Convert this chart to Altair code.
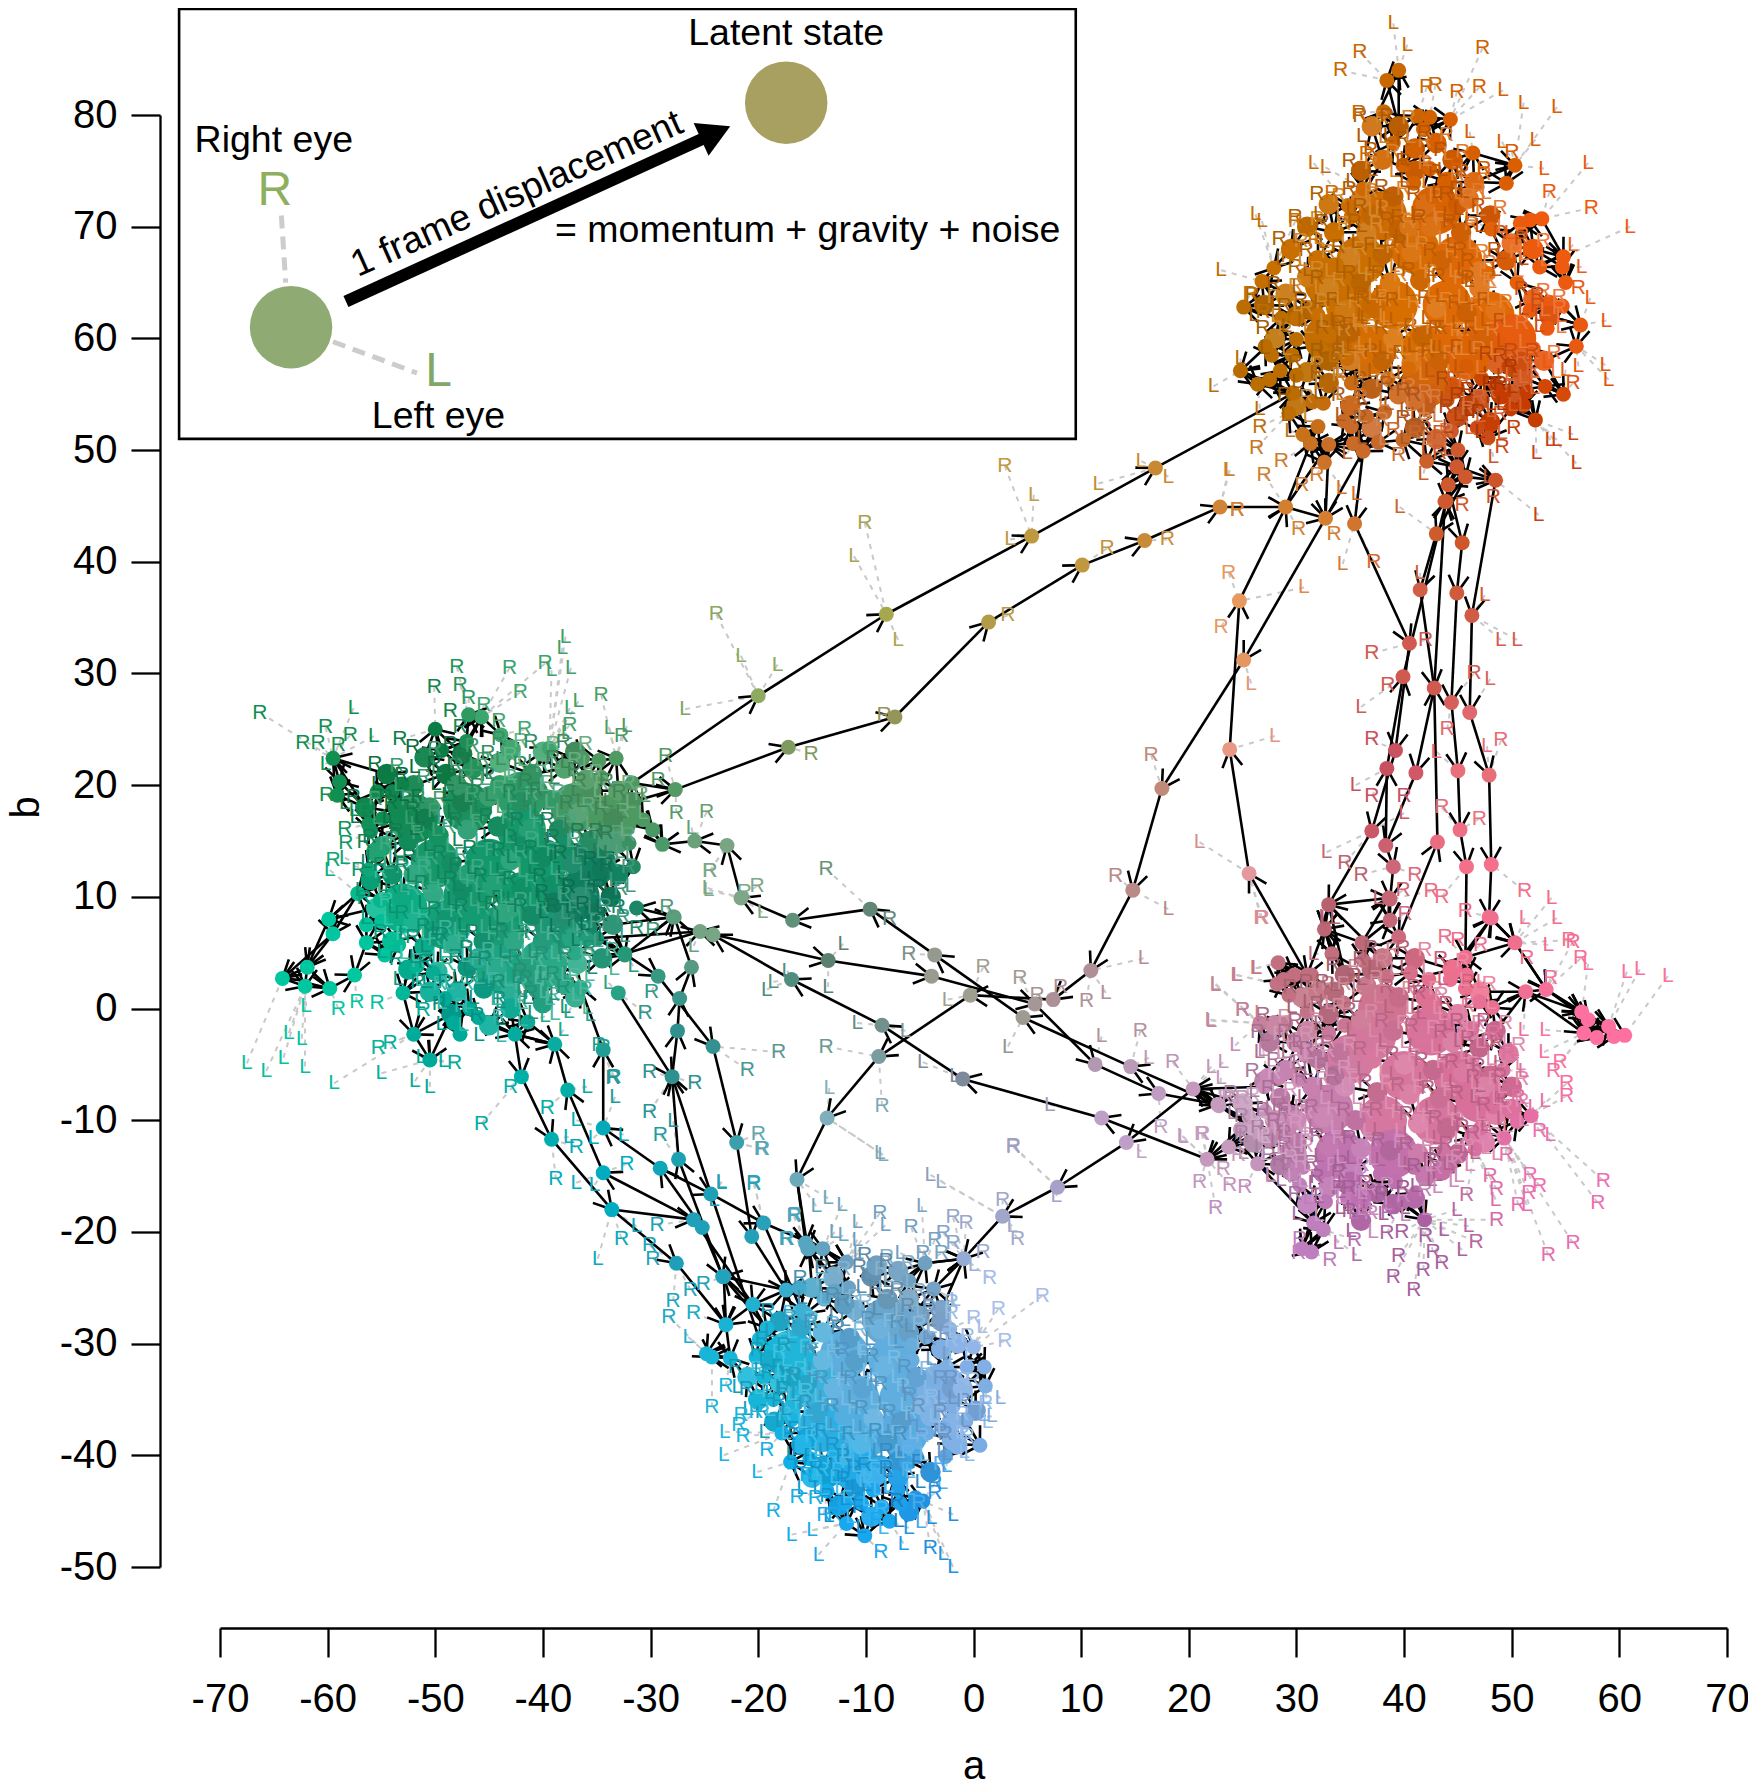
import math
import altair as alt
import pandas as pd

FONT = "Liberation Sans"
TICKS_A = [-70, -60, -50, -40, -30, -20, -10, 0, 10, 20, 30, 40, 50, 60, 70]
TICKS_B = [-50, -40, -30, -20, -10, 0, 10, 20, 30, 40, 50, 60, 70, 80]

ANCHORS = [
 (28,58,"#BC6E00"),(32,66,"#C97000"),(40,62,"#D96F00"),(46,62,"#E06A05"),(53,60,"#EC5A12"),(50,54,"#C63C00"),(38,50,"#C96A2A"),
 (39,83,"#C96800"),(46,78,"#D85F00"),(56,70,"#F05A10"),(24,58,"#B86C00"),(46,48,"#D05A30"),(52,47,"#C84018"),
 (40,-7,"#D9789F"),(25,-10,"#C79DBF"),(30,-9,"#C880B0"),(36,-16,"#BE70B0"),(32,5,"#C27080"),(57,-2,"#FF70A0"),(40,-22,"#A85FA0"),(55,-15,"#EE6FB0"),(48,5,"#F0708F"),(30,-20,"#C080C0"),(46,-5,"#D8709A"),
 (-10,-33,"#5FAFE0"),(-20,-33,"#17B7D9"),(-10,-47,"#18A8F0"),(0,-35,"#7FAEE5"),(-7,-23,"#6FA0C0"),(3,-27,"#A8C0F0"),(-17,-42,"#10B0E8"),(-3,-47,"#2090E0"),
 (-42,12,"#129A6C"),(-50,24,"#0A7E45"),(-33,20,"#4F9A62"),(-60,3,"#00C8A0"),(-48,-4,"#00AA99"),(-38,4,"#2AAA88"),(-36,10,"#0F7F5F"),(-44,25,"#40A870"),(-60,24,"#109050"),
 (-20,28,"#8FAB60"),(-8,35,"#A8A850"),(5,42,"#C09A40"),(16.9,48,"#C98A35"),(-7.5,26,"#95955A"),(-17,23,"#7F9A60"),(0,0,"#A0A090"),(10.9,3.4,"#B09098"),
 (-13.5,-9.8,"#80B0BC"),(-1,-6,"#7E8A9A"),(-16.9,2.6,"#4F8F7F"),(-28,-6,"#309090"),(-34,-15,"#00ADC0"),(25,36,"#E89A60"),(24,23,"#E89A85"),(25.8,12,"#E59AA0"),
 (17.5,19.7,"#C08A7A"),(14.8,10.6,"#B88A88"),(40,30,"#D05A50"),(38,21,"#C85060"),(45,21,"#E8707A"),(48,13,"#F5708A"),(33,9,"#B8606E"),(7.8,-16,"#A8A0C8"),(2.7,-18.6,"#A0A8CC"),(14,-12,"#C0A0C8"),(-22,10,"#7FA888"),(-13.5,4.3,"#5C8070"),(-42,-7,"#00B0A8"),(-25,-19,"#20A0B8"),(29,44,"#D58030"),
]

TRACKS = [
 [(-31.7,20.2),(-20,28),(-8.1,35.3),(5.4,42.3),(16.9,48.4),(29.7,55.1)],
 [(-27.7,19.6),(-17.2,23.4),(-7.3,26.1),(1.4,34.6),(10.1,39.7),(15.9,41.9),(22.9,44.9),(29,44.9),(32.7,43.9)],
 [(36.2,49.9),(32.7,43.9),(25.1,31.2),(17.5,19.7),(14.8,10.6),(10.9,3.4),(7.4,0.8),(-0.3,1.2),(-8.8,-4.3),(-13.6,-9.8),(-16.4,-15.3),(-15.4,-21.5)],
 [(31,3),(25.6,12.1),(23.8,23.2),(24.7,36.5),(29,44.9),(31.3,50.6)],
 [(21.7,-13.5),(11.9,-9.8),(-1,-6.3),(-8.5,-1.5),(-16.9,2.6),(-24.2,6.6),(-25.4,6.9),(-35,6.3)],
 [(-32.4,4.9),(-25.4,6.9),(-13.5,4.3),(-3.9,2.9),(5.7,0.4),(11.3,-5),(17.2,-7.6),(22.7,-8.6),(26.6,-11.3)],
 [(27,-7),(20.4,-7.2),(14.2,-12),(7.8,-16),(2.7,-18.6),(-0.9,-22.4),(-3.7,-25.1)],
 [(22.8,-8.7),(14.6,-5.2),(4.6,-0.8),(-3.6,4.8),(-9.6,8.9),(-16.8,7.9),(-21.6,9.9),(-22.9,14.6),(-25.9,15),(-28.9,14.7)],
 [(-42.6,-2.3),(-42,-6.1),(-39.2,-11.7),(-33.6,-18),(-27.6,-22.8),(-23,-28.3)],
 [(-26,-18.9),(-34.4,-14.7),(-37.7,-7.3),(-38.9,-3.2),(-42.6,-2.3),(-46,-0.8)],
 [(-25.2,-19.6),(-29.1,-14.3),(-34.4,-10.7),(-34.4,-3.7),(-36.5,1.9),(-37,5)],
 [(-33,1.4),(-28,-6.1)],
 [(-23.3,-24),(-27.4,-13.5),(-28,-6.1),(-27.5,-2),(-27.3,0.9),(-26.2,3.7),(-27.8,8.2),(-31.3,9)],
 [(-19.9,-29.6),(-28,-6.1)],
 [(-35,6.2),(-32.4,4.9),(-29.3,2.9),(-24.2,-3.4),(-22,-12),(-20.6,-20.4),(-17.4,-25.2)],
 [(-29.1,-14.3),(-24.4,-16.6),(-19.5,-19.2),(-14,-21.5),(-11.8,-22.7)],
 [(-25.2,-19.6),(-23.3,-24),(-19.2,-28.6)],
 [(-26,-18.9),(-20.5,-26.5)],
 [(-19.5,-19.2),(-16,-27)],
 [(-16.4,-15.3),(-15.6,-21)],
 [(-33.6,-18),(-26,-18.9)],
 [(36.2,49.9),(35.4,43.4),(40.5,32.7),(39.2,23.1),(37,15.9),(33,9.3),(32.6,7.1),(31,3)],
 [(38.3,14.6),(38.4,21.5),(39.9,29.7),(43.9,45.4),(44.9,48.5)],
 [(45.7,47.6),(43,42.5),(41.5,37.5),(42.8,28.7),(41.1,21.1),(38.3,14.6),(39,12.7),(38.7,9.8),(38.7,7.9)],
 [(44.1,46.9),(45.4,41.7),(44.9,37.2),(44.4,27.4),(45,21.3),(45.2,16),(45.8,12.7),(45.7,4.6)],
 [(48.5,47.3),(46.3,35.2),(46.1,26.5),(47.9,20.9),(48.1,12.9),(47.9,8.2),(50.3,5.9),(53.2,1.7),(56.5,-0.3),(59,-1.6),(60.5,-2.4)],
 [(51.3,1.5),(56.7,-2.2),(57.9,-2.6),(59.5,-2.5)],
 [(51.3,1.5),(48.2,0.1)],
 [(39.5,6.4),(43.1,14.9),(42.8,28.7),(43.8,45.4)],
 [(26.4,-13.9),(31.6,-19.2),(32.5,-19.8)],
 [(29,44.9),(33,50.5)],
 [(33,50.5),(32.7,43.9)],
 [(36.1,5.9),(32.6,7.1),(33.3,4.9)],
 [(-4.5,-22.8),(-0.9,-22.4)],
]

GREEN_IN = [(-52,20),(-49,21),(-46.5,21.5),(-44,22),(-41,21),(-38,21.5),(-35.5,19.5),(-53,17.5),(-50.5,18),(-47.5,18.5),(-45,19),(-42,18.5),(-39.5,18.7),(-36.7,17.5),(-33.5,17),
 (-55,14.5),(-52.5,15),(-49.7,15.5),(-47,16),(-44.2,16.3),(-41.3,16),(-38.5,16),(-35.7,15),(-33,14.8),(-54,12),(-51.3,12.8),(-48.5,13),(-45.7,13.5),(-43,13.3),(-40,13.5),(-37.3,13),(-34.5,12.5),
 (-53,10),(-50.2,10.3),(-47.5,10.7),(-44.7,11),(-42,10.7),(-39.2,11),(-36.5,10),(-33.7,10),(-52,7.7),(-49,8),(-46.5,8.3),(-43.7,8.5),(-41,8.3),(-38,8.3),(-35.2,8.5),(-51,5.5),(-48.3,5.7),(-45.5,6),(-42.7,6),(-40,6),(-37.3,6.3),(-49.8,3.3),(-47,3.7),(-44.3,3.5),(-41.5,3.7),(-39,4),(-36.8,4),(-45.5,1.8),(-43,1.5),(-40.5,1.8),(-38,2.2),(-48,1.5),
 (-54.5,21),(-51,22.5),(-47.5,22.8),(-43,23.2),(-40,23),(-37,23),(-33,19.5),(-31.8,18.5),(-33,12),(-33.5,7.5),(-34.5,4.5),(-37,1),(-40,0.5),(-43,0),(-45,-1.5),(-48.5,-0.5),(-50.5,1.5),(-52.5,3.5),(-54,6),(-55.5,9),(-56,11.5),(-55.5,14),(-56.5,18),(-53.5,18),(-52,12),(-50,6.5),(-36,20.5),(-40.5,19.5),(-44,20),(-48,20),(-51,17),(-47,12),(-42,14.5),(-38,14.5),(-43,9),(-39,9.5),(-46,4.5),(-41,2.5),(-36,7),(-34,15)]
GREEN_OUT = [(-59.5,22.4),(-58.9,20.3),(-59.1,19.1),(-56.2,16.5),(-54.9,17),(-56,15.9),(-55.4,19.4),(-54,19.4),(-53.1,20.1),(-50,25),(-49.4,23.1),(-47.1,23.9),(-45.7,26.1),(-43.9,24.5),(-46.9,26.3),(-39.4,23.3),(-36.3,22.4),(-34.8,22.2),(-33.2,22.4),(-34.6,20.7),(-31.7,20.2),(-27.7,19.6),(-31.6,17.6),(-30.7,16.9),(-29.8,16),(-28.9,14.7),(-32,14.8),(-31.6,12.7),(-35.6,11.4),(-34.4,18.1),(-56.2,12.4),(-57.2,10.3),(-55.1,9.7),(-59.9,8),(-59.5,6.7),(-55,7.8),(-56.4,7.5),(-56.4,5.9),(-61.9,3.7),(-64.2,2.7),(-62.1,2),(-59.8,1.8),(-57.5,3),(-54.7,4.8),(-53,1.4),(-53.4,5.7),(-51.7,3.8),(-50.2,3.2),(-49.1,0.9),(-52,-2.3),(-50.5,-4.6),(-48.3,-1.3),(-47.7,-2.3),(-46.8,0),(-46,-0.8),(-42.6,-2.3),(-41.4,-1.2),(-38.9,-3.2),(-36.5,1.8),(-35.6,7.2),(-35.9,6.2),(-35,6.3),(-32.4,4.8),(-27.9,8.2)]
GREEN_CORE = [(-47,18),(-42,19),(-37,18),(-50,13),(-45,13),(-40,13),(-35.5,13),(-49,7.5),(-44,7),(-38.5,7.5),(-44,3.5),(-52,17),(-53,9),(-33.5,17),(-40,4),(-47,10),(-42,10),(-42,16),(-37,10)]
GREEN_R = [(-66.3,26.5),(-60.2,25.2),(-57.9,24.5),(-62.3,23.8),(-60.9,23.8),(-59,23.6),(-48,30.6),(-50.1,28.8),(-43.1,30.5),(-39.8,30.9),(-42.1,28.3),(-47.7,29),(-46.9,27.8),(-45.5,27.2),(-48.6,26.6),(-34.6,28.1),(-37.5,25.4),(-53.3,24.1),(-41.7,25),(-47.7,25.2),(-44.1,25.7),(-32.7,24.4),(-28.6,22.6),(-29.3,20.5),(-60.1,19.1),(-58.4,16.1),(-58.3,14.8),(-59.5,13.3),(-56.5,17.7),(-27.6,17.5),(-24.8,17.6),(-24.5,12.3),(-28.5,9.1),(-31.3,7.2),(-29.8,7),(-33,9.1),(-29.9,1.5),(-30.5,-0.4),(-57.3,0.6),(-59,0),(-55.4,0.5),(-51.1,-0.1),(-55.3,-3.5),(-54.2,-3.1),(-48.2,-4.9),(-45.7,-10.3),(-43,-7),(-39.6,-8.9),(-34.4,-3.4),(-30.1,-5.7),(-25.9,-6.7),(-30.1,-9.3),(-33.4,-6.1)]
GREEN_L = [(-57.6,26.9),(-55.7,24.4),(-37.9,33.3),(-38.2,32.3),(-39.2,30.3),(-37.4,30.5),(-36.7,27.5),(-37.5,26.9),(-37.8,24.7),(-33.8,25.1),(-26.8,26.8),(-32.2,25.3),(-30.5,19),(-26.2,16.2),(-24.6,10.6),(-60.2,21.9),(-58.4,18.4),(-57.5,17.8),(-58.4,13.5),(-59.8,12.4),(-62,0.2),(-63.6,-2.2),(-62.4,-2.7),(-67.5,-4.9),(-65.7,-5.6),(-64.1,-4.4),(-62.1,-5.2),(-59.4,-6.7),(-55,-5.8),(-51.9,-6.5),(-50.5,-7),(-51.3,-4.3),(-49.2,-4.7),(-39.8,-0.7),(-38.1,-1.9),(-37.6,-0.3),(-35.6,-0.6),(-33.9,2.3),(-26,5.6),(-31.6,3.8)]

ORANGE_IN = [(38,76),(41,75),(44,74),(36,72.5),(39,72.7),(42,72),(45,72),(33.5,69.5),(36.5,69.5),(39.5,69.7),(42.5,70),(45.3,69.5),(32,67),(35,67.3),(38,67.5),(40.7,67.7),(43.5,67),(46.3,67),(33,64.5),(36,65),(38.7,65),(41.5,65.2),(44.3,64.7),(47,64.5),(31.5,62.5),(34.5,62.5),(37.3,62.7),(40,62.5),(43,62.7),(45.8,62.3),(48.5,62.5),(33.5,60),(36,60.3),(39,60),(41.7,60.2),(44.5,60),(47.3,60),(50,60.7),(35,58),(38,58),(40.7,57.8),(43.3,58),(46,58.3),(48.7,57.7),(37,55.5),(39.5,55),(42,54),(44.7,55.5),(47,54.5),(50,57.5),(52,63.5),(49.5,67),(53.5,63),(51,56.5),
 (36,75),(33,72),(31,70),(29.5,68),(29,64),(30,62),(31,57),(33,56),(35,54),(37,52),(41,52),(43,51),(46,54),(48,52.5),(50,55),(51,58),(53,58),(53.5,62),(52,68),(50,68.5),(48,71),(46.5,74),(44.5,76),(41,77),(37,79),(39.5,79),(40.5,70),(37,63),(44,60),(47,66),(35,60.5),(41,54.5),(45,53),(49,55),(28,60),(27,63),(31,65.5),(37,71),(43,77.5),(46,72.5),(33,58),(30,54)]
ORANGE_OUT = [(39.5,84),(38.4,83.1),(38.1,80.3),(41.3,79.9),(42.4,79.8),(41.8,78.7),(44.3,79.6),(46.4,76.6),(50.3,75.5),(49.5,73.9),(50.8,70.3),(51.7,70.6),(52.8,70.7),(48.1,69.8),(54.8,67.3),(54.7,66.4),(55,65),(54.7,62.9),(56.4,61.2),(56,59.3),(52.6,66.4),(47.8,65.8),(50.5,65),(51.7,62.5),(53.3,60.9),(52,59.1),(48.9,59.3),(54.8,55),(53.1,55.7),(51.4,55.2),(51.1,54),(52.2,52.7),(49.9,53.7),(48.5,55.8),(47.2,56.4),(47.8,51.1),(46.8,52),(44.6,53),(44.4,51.7),(45,50),(44.9,48.5),(45.7,47.6),(48.5,47.3),(44.1,46.9),(43.9,45.4),(42.1,49),(39.9,50.9),(37.6,50.7),(36.2,49.9),(35.3,50.6),(33,50.5),(31.3,50.6),(32.6,48.9),(30.6,51.4),(32,52.1),(34.4,52.6),(35.1,52.1),(36.5,53),(38.2,53.4),(29.3,53.3),(29.7,55.1),(31.5,54.3),(32.5,54.2),(35.1,56),(24.8,57.1),(26.4,55.9),(27.5,56.3),(28.5,57.1),(30,56.7),(27.1,59.3),(27.7,58.5),(29.6,58.5),(30,59.9),(31.6,59.3),(33.1,60.2),(28.6,61.8),(30,61.8),(25.1,62.8),(26.8,65.1),(27.9,66.3),(32,62.1),(33.7,66.6),(34.8,71.9),(35.1,70.9),(36.2,73.4),(38.5,71.2),(39.9,75.5),(40.9,73.9),(42.7,72.7),(42.4,75.2),(39,77.5),(34.7,58.2),(36.4,57.2),(38.5,56.4),(40.4,57.3),(42.1,56.6),(42.6,55.1),(44,54.5),(45.8,57.5)]
ORANGE_CORE = [(36,67),(41,68),(45,67),(35,63),(39,63),(44,63),(48,62),(37,59),(42,59),(46,58.5),(38,71),(42,56),(50,60),(43,71.5),(33,60),(33,65)]
ORANGE_R = [(34.1,84),(35.9,85.6),(47.3,86),(42.1,82.5),(42.9,82.7),(44.9,82.1),(47,82.5),(35.8,80.2),(36.5,76.5),(33.3,73),(29.9,70.5),(31.7,68.8),(29.2,67.4),(53.5,73.1),(57.4,71.7),(51.6,67.8),(50,76.7),(47.4,75.2),(44.9,75.5),(25.7,64),(26.9,62.4),(56.2,64.5),(55.7,56),(26.6,52.1),(26.3,50.2),(27,47.8),(28.6,49),(31.9,47.8),(30.5,46.9),(39.5,49.6),(41,51.5),(43.3,51.5),(43.3,49.7),(49.1,50.3),(48.3,45.8),(45.4,45.1),(24.5,44.6),(50.2,52),(35.9,54.8),(39,51.8),(44.6,56.4)]
ORANGE_L = [(39,88.2),(40.3,86.3),(49.2,82.2),(51.1,81.1),(54.2,80.7),(52.2,77.8),(57.1,75.7),(53,75.2),(31.6,75.7),(32.7,75.3),(26.2,71.1),(26.8,70.5),(23,66.1),(61,70),(55.7,68.4),(56.5,66.4),(57.3,63.6),(58.8,61.6),(46.1,78.5),(49.1,77.6),(58.7,57.6),(59,56.3),(56.2,57.5),(55,57.2),(55.7,51.4),(56,48.8),(52.3,49.7),(54.2,50.9),(53.6,50.9),(22.3,55.7),(24.8,58.2),(23.8,48.2),(26.6,53.7),(29.4,51.7),(34.7,49.7),(34.2,46.6),(35.6,46.1),(39.6,44.9),(41.8,47.9),(52.5,44.2),(47.8,47.6),(48.3,49.4),(32,57.5),(33.4,58.4),(53.3,57.9),(49.8,69.4),(46.1,70.6)]

BLUE_IN = [(-11,-27),(-8,-26),(-5,-27.5),(-14,-29),(-11.5,-29.5),(-8.7,-28.7),(-6,-29),(-16.5,-31),(-14,-31.5),(-11,-31.5),(-8.3,-32),(-5.3,-33),(-3,-30.5),(-18,-33.5),(-15.5,-33.7),(-13,-34),(-10.3,-34),(-7.5,-34.5),(-4.8,-35.5),(-2,-34),(-17,-36),(-14.5,-36.2),(-12,-36.5),(-9.3,-36.7),(-6.7,-37),(-4,-36.5),(-15.5,-38.5),(-13,-38.7),(-10.5,-39),(-8,-38.7),(-5.7,-39),(-14,-41),(-11,-41),(-9,-41.8),(-11,-43),(-2,-38.7),(-16,-28.5),(-18.5,-30.5),
 (-13,-24),(-9.5,-24),(-7,-23.5),(-3,-27),(-1.5,-30),(-1,-34),(0.2,-36),(-1.5,-39),(-4,-41.5),(-7,-42),(-10,-42),(-13.5,-42),(-16,-39),(-18.5,-37),(-20,-35),(-21,-33),(-18,-28),(-15,-25),(-12,-26.5),(-9,-23),(-6,-26),(-3,-28),(-2,-37),(-19,-31.5),(-16.5,-35),(-12,-40),(-7,-40.5),(-9.5,-45.5),(-12.5,-44.5),(-6,-45),(-15,-42),(-17,-33)]
BLUE_OUT = [(-15.3,-21.5),(-14,-21.5),(-11.8,-22.7),(-4.5,-22.8),(-0.9,-22.4),(-3.7,-25.1),(-6,-24.4),(-17.4,-25.2),(-16.2,-25),(-20.5,-26.5),(-23.2,-24),(-23,-28.3),(-13.9,-26),(-11.6,-25),(-12.9,-25.3),(-19.2,-28.6),(-19.9,-29.6),(-22.6,-31.3),(-24.8,-30.9),(-24.3,-31.2),(-20.2,-31.2),(-19.5,-33),(-15.6,-27.3),(-2.2,-28.7),(-4.4,-29.4),(0,-30.3),(1,-32.1),(1.1,-33.8),(-0.6,-32.1),(-0.7,-36.9),(0.6,-39.1),(-2.6,-40.1),(-5.3,-40.1),(-4.3,-38),(-2.8,-37.6),(-1.9,-35.6),(-2.5,-32.1),(-3.7,-33.2),(-5.7,-30.1),(-7,-30.9),(-5.7,-31.5),(-17.8,-38),(-17,-40.6),(-15.2,-40.3),(-13.6,-43.2),(-11.9,-44.3),(-11.8,-46.1),(-10.1,-47.2),(-10.4,-44.3),(-9.3,-43.1),(-8.5,-44.6),(-7.8,-45.9),(-6.8,-44.3),(-5.4,-43.8),(-4.7,-44.1),(-7,-43.1),(-7.3,-41.9),(-8.5,-40.7),(-6.2,-40.7),(-12.4,-41.6),(-12.9,-39.7),(-18.6,-35),(-16.9,-36.8)]
BLUE_CORE = [(-8,-28),(-12,-31),(-7.5,-31.5),(-15,-33.5),(-11,-35),(-6.5,-35),(-14,-37.5),(-10,-38),(-6.5,-38),(-3,-34),(-11,-41),(-17,-31)]
BLUE_R = [(-8.6,-48.7),(-4,-48.3),(6.4,-25.7),(2.9,-29.8),(2.3,-26.9),(1.5,-24.1),(0.9,-21.8),(4.1,-20.6),(-0.7,-19.2),(-1.9,-18.7),(-5.8,-19.6),(-8.7,-18.3),(2.7,-17.1),(3.7,-12.4),(-19.7,-12.6),(-16.7,-18.6),(-20.4,-15.7),(-17.4,-20.6),(-25.1,-24.7),(-27.9,-26.2),(-26.3,-25.2),(-26,-27.3),(-28.3,-27.6),(-23,-33.8),(-24.3,-35.7),(-21.6,-36.4),(-20.2,-36.1),(-21.8,-37.3),(-21.4,-38.3),(-19.2,-39.5),(-15.5,-41.8),(-16.4,-43.7),(-14.7,-43.8),(-18.6,-45),(-13.9,-45.3),(-12.9,-45.3),(-9,-45.8),(-3.6,-42.5),(-3.6,-43.4),(-1.9,-21),(-3,-21.9),(-4.7,-21.9),(-2.8,-20.1),(-3.6,-20.7),(0,-27.7)]
BLUE_L = [(-8.4,-13.1),(-4,-14.9),(-3,-15.5),(-4.8,-17.7),(-14.6,-17.7),(-13.5,-17),(-12.2,-17.6),(-10.8,-19.1),(-12.9,-20),(-12.1,-20.3),(-10.8,-20.7),(-10.7,-21.9),(-8.2,-19.4),(-6.8,-21.9),(-23.4,-15.6),(-26.5,-29.4),(-23.1,-37.9),(-23.2,-40),(-20.1,-41.5),(-16.9,-47.1),(-15,-46.7),(-14.4,-48.9),(-6.5,-47.9),(-3.9,-45.6),(-6,-46.5),(-2.8,-48.8),(-1.9,-50),(-1.9,-45.3),(2.5,-34.9),(1.2,-34.9),(0.9,-36.4),(1.7,-36.5),(0.8,-28.5),(-1.7,-26.1),(7.7,-16.8),(3.6,-19.5),(0,-23),(-2.5,-41)]

PINK_IN = [(36.5,2),(39.5,1),(42.5,0.5),(45,-0.5),(33,-0.5),(36,-1),(39,-2),(41.8,-2.5),(44.5,-3),(47,-3.5),(31,-4),(34,-4),(37,-4.5),(40,-5),(42.7,-5.5),(45.5,-5.7),(48,-6),(31.5,-7),(34.5,-7),(37.5,-7.5),(40.5,-7.7),(43.3,-8),(46,-8.5),(48.5,-9.5),(29.5,-9.5),(32.5,-9.7),(35.5,-10),(38.5,-10),(41.3,-10.3),(44,-10.7),(46.5,-11.5),(30,-12),(33,-12.3),(36,-12.5),(38.7,-12.7),(41.3,-13),(44,-14),(32.5,-14.7),(35.2,-14.7),(37.5,-16.5),(35,-17),(27.5,-11.5),(29.5,-14.5),
 (30.5,1),(34.5,3),(38,4.5),(41,4.5),(44.5,3.5),(47,1.5),(48.5,-2),(49.7,-4),(50,-7),(50,-9),(47.5,-12),(45,-13),(42,-15),(39,-17.5),(36,-17),(33,-16),(30,-13),(28,-10),(28.5,-8),(29,-5.5),(30,-3),(27.5,-3),(32,1.5),(37,3.5),(42,1),(46,-2),(28.5,-14),(31,-17.5),(35,-15.5),(43.5,-14.5),(47.5,-7),(33.5,-6),(30,-10),(36,-19),(41,-17),(25,-8.5),(26,-12),(31,-2),(27,-6.5),(29,-11),(26,-10.5),(32,-4.5),(28,-1.5),(33.5,1.5)]
PINK_OUT = [(33,9.3),(32.6,7.1),(33.3,4.9),(36.1,5.9),(38.6,9.9),(38.7,7.9),(39.5,6.4),(45.7,4.6),(48.1,8.1),(50.3,5.9),(45.8,3),(45.7,1.8),(51.3,1.5),(53.2,1.7),(56.5,-0.3),(57.1,-1),(56.7,-2.2),(57.9,-2.6),(59,-1.6),(48.2,0.1),(47,0.6),(46.3,-1.8),(28.3,4.1),(29.8,3),(31.4,3),(28.2,2.2),(28.8,2.6),(29.3,1.2),(26.6,-1.3),(29,-1.3),(27.3,-6),(28.4,-6.2),(30.2,-6.4),(20.4,-7.2),(22.8,-8.7),(25.6,-9.7),(24.8,-10.8),(27.1,-9.2),(23.7,-12.4),(21.7,-13.5),(26.4,-13.9),(26.6,-11.3),(29.1,-12.7),(30.3,-15.8),(30.6,-14.2),(32.7,-17.3),(31.6,-19.2),(32.5,-19.8),(30.5,-21.5),(31.4,-21.8),(34.4,-15.8),(37.8,-14.8),(39.9,-17.3),(41.1,-16.5),(41.9,-18.9),(46.6,-12.6),(49.3,-11.6),(50.5,-10.1),(51.8,-9.6),(47.1,-10.7),(43.7,-12.7),(40.9,-14.2),(39.2,-15.5),(31,-0.3),(33,-2.2),(34.5,-1.5),(36.2,4.3),(38.4,2.9),(40.6,3.2),(42.3,2.6),(44.3,2.6),(34.4,0.5),(48.6,-7.9),(49.2,-5.5),(48.3,-8.8)]
PINK_CORE = [(38,0),(42.5,-2),(35,-4.5),(40,-6),(45,-6),(33,-9),(38,-10),(43,-10),(34,-13),(39,-13),(47,-8),(37,-2.5)]
PINK_R = [(58.5,-15.4),(58,-17.4),(55.7,-21),(53.4,-22.1),(55.1,-7.8),(55.1,-6.7),(54.5,-4.8),(53.9,-5.6),(51.2,10.5),(42.5,10.5),(39.9,10.6),(40.1,8.5),(45.7,8.7),(43.8,6.4),(45,6.1),(47.1,5.7),(51.4,4.5),(55.3,6.1),(55.7,6),(56.4,4.5),(53.6,2.7),(26.7,8.1),(25,-0.1),(21.2,-11.2),(23.4,-7.9),(24.9,-8),(24.6,-13.1),(21,-15.5),(23.8,-15.8),(25.2,-16),(22.5,-17.9),(23.2,-14.4),(30.3,-20.6),(30.2,-21.9),(33.1,-22.5),(35.4,-20.7),(38.4,-20.1),(39.8,-20),(42,-20.4),(43.5,-22.8),(39,-24),(40.9,-25.2),(41.8,-23.4),(39.5,-22.2),(46.7,-20.9),(42.7,-21.8),(48.6,-18.9),(51.6,-16.5),(52.6,-15.9),(51.7,-14.9),(48.6,-16.2),(48,-15),(45.8,-16.7),(50.6,-17.6),(50.6,-7.9),(49.7,-4),(48.3,-2.2),(52.6,-11),(49.5,-13.1),(36.1,-18),(38.5,-18.3)]
PINK_L = [(64.5,2.9),(61.9,3.5),(60.7,3.3),(54.2,8.1),(53.7,9.9),(51.2,8.1),(53.4,5.7),(57.1,4),(37.6,9.9),(33.6,8.1),(32.7,8.1),(31.6,4.9),(26.3,3.6),(24.5,3),(22.5,2.1),(22,-1),(26.6,-0.4),(24.3,-3.3),(26.9,-3.7),(22.1,-5.2),(23.2,-4.8),(23,-6.2),(19.5,-11.5),(27.6,-15),(31.1,-17),(33.9,-21),(35.6,-22.1),(35.3,-18.3),(43.7,-19.8),(45.4,-21.6),(46,-19.5),(44.9,-18),(48.5,-17.1),(51.4,-17.6),(53.6,-11.3),(53.1,-8.3),(52,-8.8),(53,-3.9),(53.1,-1.9),(51.1,-1.9),(51.1,-5.6),(50.2,-3.7),(47.2,2.4)]

TRACK_R = [(-23.9,35.3),(-10.1,43.5),(2.9,48.6),(3.2,35.2),(12.4,41.2),(18,42),(24.5,44.6),(23.7,39),(23,34.2),(-8.3,26.3),(-15.1,22.8),(16.5,22.7),(13.2,11.9),(-13.7,12.5),(-7.8,8),(-20.1,11),(-21.3,10.4),(-24.5,12.3),(-6,4.9),(0.9,3.7),(4.3,2.7),(5.9,1.2),(8.1,1.9),(10.5,0.7),(15.5,-2),(18.5,-4.8),(25,-0.1),(26.8,8.1),(-18.1,-3.9),(-13.7,-3.4),(-8.5,-8.7),(-21,-5.5),(3.7,-12.3),(23.7,-7.9),(25,-8),(21.3,-11.2),(17.4,-10.6),(-20,-11.2),(-19.6,-12.6),(37,31.8),(37.2,40),(33.5,42.5),(30.2,42.9),(37,24.1),(-36.9,-12.4),(-38.8,-15.3),(-32.2,-13.9),(-29.4,-19.4),(-32.7,-20.6),(-30.1,-21.2),(-29.8,-22.4),(-29.1,-11.3),(-20.4,-15.6),(-16.6,-18.5),(-17.3,-20.6),(-34.8,-3.3),(-33.5,-6.2),
 (38.5,29),(42,33),(44,25),(37,19),(40,19),(43.5,18),(36,12),(41,12),(47,17),(43.5,10),(49,24),(46.5,30),(34.5,13)]
TRACK_L = [(-21.6,31.6),(-18.2,30.8),(-11.1,40.5),(-7,33),(5.6,46),(3.4,42),(11.6,47),(15.6,49),(18.1,47.6),(23.7,48.2),(30.7,37.7),(25.8,29.1),(28,24.4),(21,14.9),(18.1,8.9),(32.8,14),(15.8,4.5),(12.3,1.4),(11.9,-2.5),(16.3,-4.4),(3.2,-3.4),(-2.4,0.8),(-12.1,5.8),(-19.6,8.6),(-24.7,10.8),(-17.3,3.4),(-18.6,2.4),(-19.2,1.7),(-13.5,1.9),(-10.8,-1.3),(-6.3,-2),(-4.7,-4.8),(-1.7,-6),(7.1,-8.6),(-13.4,-7.1),(-8.7,-12.9),(22.5,2.2),(24.4,3),(26.2,3.6),(22.1,-1.1),(15.6,-12.8),(19.4,-11.4),(34.3,39.8),(32.6,8.2),(-23.4,-15.5),(-24.1,-17.1),(-27.9,-10.1),(-32.5,-11.3),(-35.3,-11.6),(-36.9,-10),(-37.6,-11.5),(-36.9,-15.6),(-35.2,-15.8),(-31.3,-19.5),(-34.9,-22.4),(-33.3,-7.9),(-35.9,-7),
 (47.5,37),(49,33),(48,29.5),(50.5,33),(47.7,23.5),(36,27),(40,17.5),(36.5,5),(41.5,39),(43,23),(35.5,20)]

INSET_BOX = dict(x=-73.8, x2=9.5, y=89.5, y2=51)
INSET_DOTS = [(-63.4, 61.0, "#8FAB73"), (-17.4, 81.1, "#A8A060")]
INSET_DASH = [(-64.3, 71.0, -63.9, 65.0), (-59.5, 59.7, -51.7, 56.9)]
INSET_ARROW = (-58.3, 63.3, -22.6, 79.0)
INSET_LETTERS = [("R", -64.9, 73.2, "#8FAF60"), ("L", -49.7, 57.0, "#82A868")]
INSET_TEXT = [("Latent state", -17.4, 86.3, 0), ("Right eye", -65.0, 76.7, 0), ("Left eye", -49.7, 52.0, 0),
              ("= momentum + gravity + noise", -15.4, 68.6, 0), ("1 frame displacement", -42.0, 72.0, 336)]
Y_TITLE = ("b", -87.9, 18.0)

SX, SY = 10.764, 11.17


def hex2rgb(h):
    return [int(h[i:i + 2], 16) for i in (1, 3, 5)]


ANCH = [(a, b, hex2rgb(c)) for a, b, c in ANCHORS]


def colour(a, b, shift=0.0):
    tot, acc = 0.0, [0.0, 0.0, 0.0]
    for x, y, c in ANCH:
        w = 1.0 / ((x - a) ** 2 + (y - b) ** 2 + 0.5) ** 2
        tot += w
        for i in range(3):
            acc[i] += w * c[i]
    rgb = [v / tot for v in acc]
    if shift > 0:
        rgb = [v + (255 - v) * shift for v in rgb]
    elif shift < 0:
        rgb = [v * (1 + shift) for v in rgb]
    return "#%02x%02x%02x" % tuple(int(max(0, min(255, v))) for v in rgb)


def dist2(p, q):
    return ((p[0] - q[0]) * SX) ** 2 + ((p[1] - q[1]) * SY) ** 2


def heading(p, q):
    return math.degrees(math.atan2((q[0] - p[0]) * SX, (q[1] - p[1]) * SY)) % 360


segs, heads, states, dashes, labels = [], [], [], [], []


def add_arrow(p, q):
    segs.append(dict(x=p[0], y=p[1], x2=q[0], y2=q[1]))
    heads.append(dict(x=q[0], y=q[1], ang=heading(p, q)))


for tr in TRACKS:
    for p, q in zip(tr, tr[1:]):
        add_arrow(p, q)
    states.extend(tr)

CLUSTERS = [
    (GREEN_IN, GREEN_OUT, GREEN_R, GREEN_L),
    (ORANGE_IN, ORANGE_OUT, ORANGE_R, ORANGE_L),
    (BLUE_IN, BLUE_OUT, BLUE_R, BLUE_L),
    (PINK_IN, PINK_OUT, PINK_R, PINK_L),
]
inner_text = []
inner_pts = []
SHADE = [0.07, -0.06, 0.0, 0.12, -0.09]
for inn, out, rr, ll in CLUSTERS:
    seq = list(inn) + list(out)
    for i, q in enumerate(seq):
        if i == 0:
            continue
        prev = sorted(seq[:i], key=lambda p: dist2(p, q))
        for p in prev[:2 if i >= len(inn) else 1]:
            add_arrow(p, q)
    states.extend(out)
    for j, p in enumerate(inn):
        inner_pts.append(dict(x=p[0], y=p[1], c=colour(p[0], p[1], SHADE[j % 5])))
        inner_text.append(dict(x=p[0], y=p[1], t="R", c=colour(p[0], p[1], 0.18)))
        inner_text.append(dict(x=p[0], y=p[1], t="L", c=colour(p[0], p[1], -0.14)))

seen = []
for s in states:
    if not any(dist2(s, t) < 1 for t in seen):
        seen.append(s)
states = seen

for t, lst in (("R", GREEN_R + ORANGE_R + BLUE_R + PINK_R + TRACK_R), ("L", GREEN_L + ORANGE_L + BLUE_L + PINK_L + TRACK_L)):
    for p in lst:
        near = min(states, key=lambda s: dist2(s, p))
        dashes.append(dict(x=p[0], y=p[1], x2=near[0], y2=near[1]))
        labels.append(dict(x=p[0], y=p[1], t=t, c=colour(p[0], p[1])))

core = [dict(x=p[0], y=p[1], c=colour(p[0], p[1])) for p in GREEN_CORE + ORANGE_CORE + BLUE_CORE + PINK_CORE]
pts = [dict(x=p[0], y=p[1], c=colour(p[0], p[1])) for p in states]

sx = alt.Scale(domain=[-70, 70], nice=False, zero=False)
sy = alt.Scale(domain=[-50, 80], nice=False, zero=False)

ax_common = dict(domainColor="black", tickColor="black", domainWidth=2.3, tickWidth=2.3, tickSize=29, grid=False,
                 labelFont=FONT, labelFontSize=40, labelColor="black", titleFont=FONT, titleFontSize=40,
                 titleFontWeight="normal", titleColor="black", labelExpr="'' + datum.value", labelOverlap=False,
                 labelFlush=False, labelBound=False)
AX_X = alt.Axis(values=TICKS_A, offset=61, title="a", labelPadding=22, titlePadding=27, **ax_common)
AX_Y = alt.Axis(values=TICKS_B, offset=60, title=None, labelPadding=14, **ax_common)
X = alt.X("x:Q", scale=sx, axis=AX_X)
Y = alt.Y("y:Q", scale=sy, axis=AX_Y)
X2 = alt.X2("x2:Q")
Y2 = alt.Y2("y2:Q")
C = alt.Color("c:N", scale=None)

dash_layer = alt.Chart(pd.DataFrame(dashes)).mark_rule(color="#C9C9C9", strokeWidth=2, strokeDash=[5, 6]).encode(x=X, y=Y, x2=X2, y2=Y2)
seg_layer = alt.Chart(pd.DataFrame(segs)).mark_rule(color="black", strokeWidth=2.6).encode(x=X, y=Y, x2=X2, y2=Y2)
head_layer = alt.Chart(pd.DataFrame(heads)).mark_point(
    shape="M-0.5,0.87L0,0L0.5,0.87", filled=False, stroke="black", strokeWidth=2.6, size=1600, opacity=1
).encode(x=X, y=Y, angle=alt.Angle("ang:Q", scale=None))
core_layer = alt.Chart(pd.DataFrame(core)).mark_circle(size=2400, opacity=1).encode(x=X, y=Y, color=C)
inner_pt_layer = alt.Chart(pd.DataFrame(inner_pts)).mark_circle(size=420, opacity=1).encode(x=X, y=Y, color=C)
pt_layer = alt.Chart(pd.DataFrame(pts)).mark_circle(size=225, opacity=1).encode(x=X, y=Y, color=C)
in_df = pd.DataFrame(inner_text)
in_r = in_df[in_df.t == "R"]
in_l = in_df[in_df.t == "L"]
inner_r = alt.Chart(in_r).mark_text(font=FONT, fontSize=21, dx=10, dy=-8).encode(x=X, y=Y, text="t:N", color=C)
inner_l = alt.Chart(in_l).mark_text(font=FONT, fontSize=21, dx=-10, dy=10).encode(x=X, y=Y, text="t:N", color=C)
inner_r2 = alt.Chart(in_l).mark_text(font=FONT, fontSize=21, text="R", dx=-12, dy=-10).encode(x=X, y=Y, color=C)
inner_l2 = alt.Chart(in_r).mark_text(font=FONT, fontSize=21, text="L", dx=12, dy=11).encode(x=X, y=Y, color=C)
label_layer = alt.Chart(pd.DataFrame(labels)).mark_text(font=FONT, fontSize=21).encode(x=X, y=Y, text="t:N", color=C)

box = alt.Chart(pd.DataFrame([INSET_BOX])).mark_rect(fill="white", stroke="black", strokeWidth=2.6).encode(x=X, y=Y, x2=X2, y2=Y2)
dots = alt.Chart(pd.DataFrame(INSET_DOTS, columns=["x", "y", "c"])).mark_circle(size=6800, opacity=1).encode(x=X, y=Y, color=C)
ins_dash = alt.Chart(pd.DataFrame(INSET_DASH, columns=["x", "y", "x2", "y2"])).mark_rule(color="#CCCCCC", strokeWidth=5, strokeDash=[13, 8]).encode(x=X, y=Y, x2=X2, y2=Y2)
ax0, ay0, ax1, ay1 = INSET_ARROW
arrow_ang = heading((ax0, ay0), (ax1, ay1))
shaft = alt.Chart(pd.DataFrame([dict(x=ax0, y=ay0, x2=ax0 + (ax1 - ax0) * 0.93, y2=ay0 + (ay1 - ay0) * 0.93)])).mark_rule(color="black", strokeWidth=12).encode(x=X, y=Y, x2=X2, y2=Y2)
tip = alt.Chart(pd.DataFrame([dict(x=ax1, y=ay1, ang=arrow_ang)])).mark_point(
    shape="M0,0L-0.9,1.6L0.9,1.6Z", filled=True, fill="black", stroke="black", strokeWidth=0, size=1600, opacity=1
).encode(x=X, y=Y, angle=alt.Angle("ang:Q", scale=None))
ins_letters = alt.Chart(pd.DataFrame(INSET_LETTERS, columns=["t", "x", "y", "c"])).mark_text(font=FONT, fontSize=48).encode(x=X, y=Y, text="t:N", color=C)
ins_text = [
    alt.Chart(pd.DataFrame([dict(t=t, x=a, y=b)])).mark_text(font=FONT, fontSize=37.5, color="black", baseline="alphabetic", angle=ang).encode(x=X, y=Y, text="t:N")
    for t, a, b, ang in INSET_TEXT
]
y_title = alt.Chart(pd.DataFrame([dict(t=Y_TITLE[0], x=Y_TITLE[1], y=Y_TITLE[2])])).mark_text(
    font=FONT, fontSize=40, color="black", angle=270, baseline="middle").encode(x=X, y=Y, text="t:N")

chart = alt.layer(
    dash_layer, seg_layer, head_layer, core_layer, inner_pt_layer, pt_layer, inner_r, inner_l, inner_r2, inner_l2, label_layer,
    box, ins_dash, dots, shaft, tip, ins_letters, *ins_text, y_title
).properties(
    width=1507, height=1452,
    padding={"left": 212, "top": 107, "right": 21, "bottom": 212},
    autosize=alt.AutoSizeParams(type="none"),
).configure_view(stroke=None)

chart.save("out.html", embed_options={"renderer": "svg", "actions": False})
